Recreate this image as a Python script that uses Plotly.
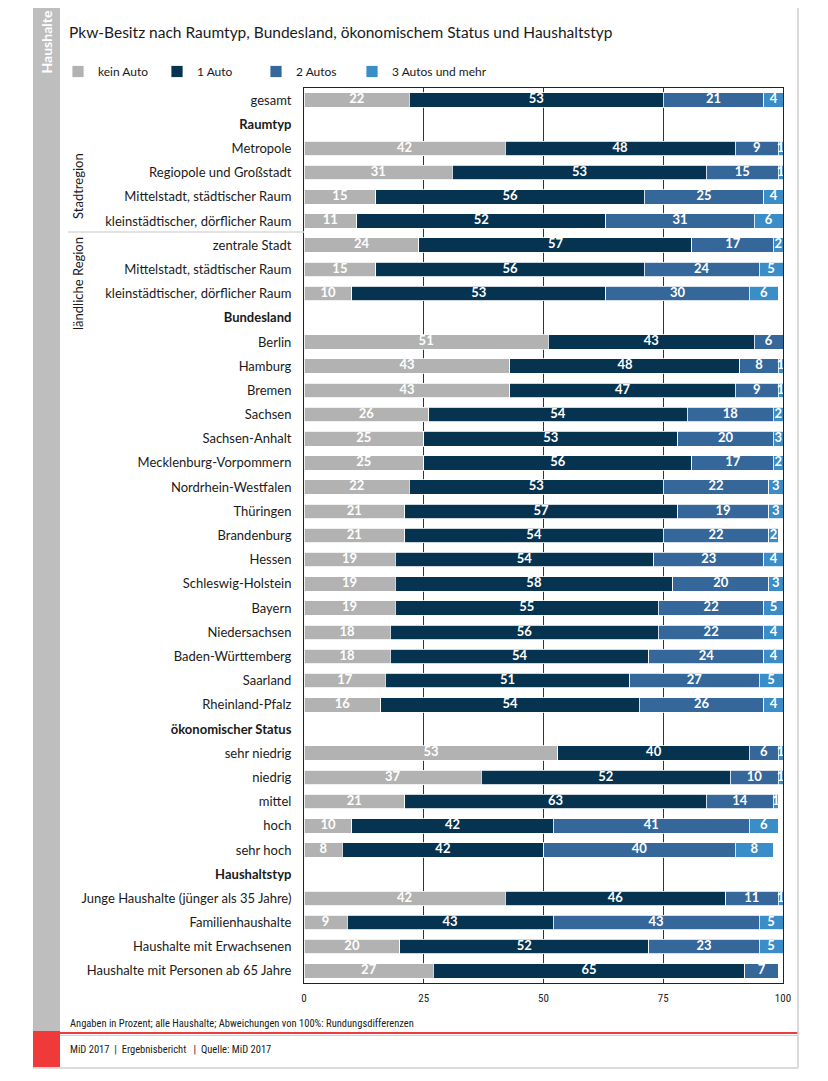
import plotly.graph_objects as go

labels = [
    "gesamt", "Raumtyp", "Metropole", "Regiopole und Großstadt",
    "Mittelstadt, städtischer Raum", "kleinstädtischer, dörflicher Raum",
    "zentrale Stadt", "Mittelstadt, städtischer Raum", "kleinstädtischer, dörflicher Raum",
    "Bundesland", "Berlin", "Hamburg", "Bremen", "Sachsen", "Sachsen-Anhalt",
    "Mecklenburg-Vorpommern", "Nordrhein-Westfalen", "Thüringen", "Brandenburg",
    "Hessen", "Schleswig-Holstein", "Bayern", "Niedersachsen", "Baden-Württemberg",
    "Saarland", "Rheinland-Pfalz", "ökonomischer Status", "sehr niedrig", "niedrig",
    "mittel", "hoch", "sehr hoch", "Haushaltstyp", "Junge Haushalte (jünger als 35 Jahre)",
    "Familienhaushalte", "Haushalte mit Erwachsenen", "Haushalte mit Personen ab 65 Jahre",
]
headers = ["Raumtyp", "Bundesland", "ökonomischer Status", "Haushaltstyp"]

kein_auto = [22, None, 42, 31, 15, 11, 24, 15, 10, None, 51, 43, 43, 26, 25, 25, 22, 21, 21,
             19, 19, 19, 18, 18, 17, 16, None, 53, 37, 21, 10, 8, None, 42, 9, 20, 27]
ein_auto = [53, None, 48, 53, 56, 52, 57, 56, 53, None, 43, 48, 47, 54, 53, 56, 53, 57, 54,
            54, 58, 55, 56, 54, 51, 54, None, 40, 52, 63, 42, 42, None, 46, 43, 52, 65]
zwei_autos = [21, None, 9, 15, 25, 31, 17, 24, 30, None, 6, 8, 9, 18, 20, 17, 22, 19, 22,
              23, 20, 22, 22, 24, 27, 26, None, 6, 10, 14, 41, 40, None, 11, 43, 23, 7]
drei_autos = [4, None, 1, 1, 4, 6, 2, 5, 6, None, None, 1, 1, 2, 3, 2, 3, 3, 2,
              4, 3, 5, 4, 4, 5, 4, None, 1, 1, 1, 6, 8, None, 1, 5, 5, None]

series = [
    ("kein Auto", kein_auto, "#b2b2b2"),
    ("1 Auto", ein_auto, "#06334f"),
    ("2 Autos", zwei_autos, "#35679a"),
    ("3 Autos und mehr", drei_autos, "#3a8dc6"),
]

x_ticks = [0, 25, 50, 75, 100]
X_MAX = 100

# the page adds an 8px body margin; work in window pixels and compensate
OFF = 8
W, H = 828 - OFF, 1081 - OFF
L, R, T, B = 304 - OFF, 783 - OFF, 88 - OFF, 983 - OFF
FONT = "Lato, 'Open Sans', sans-serif"
NARROW = "'Liberation Sans Narrow', 'Roboto Condensed', 'Arial Narrow', Lato, sans-serif"

def px(xp):
    return (xp - OFF - L) / (R - L)

def py(yp):
    return (B - (yp - OFF)) / (B - T)

ypos = list(range(len(labels)))
fig = go.Figure()
cum = [0.0] * len(labels)
lab_x, lab_y, lab_t = [], [], []
for k, (name, vals, col) in enumerate(series):
    fig.add_trace(go.Bar(
        y=ypos, x=vals, name=name, orientation="h", marker_color=col,
        marker_line=dict(color="white", width=0.8),
        width=0.6, hoverinfo="skip",
        legend="legend2" if k == len(series) - 1 else "legend",
    ))
    for i, v in enumerate(vals):
        if v is None:
            continue
        s, e = cum[i], cum[i] + v
        lab_x.append((s + min(e, X_MAX)) / 2)
        lab_y.append(i)
        lab_t.append(str(v))
        cum[i] = e

fig.add_trace(go.Scatter(
    x=lab_x, y=lab_y, text=lab_t, mode="text", showlegend=False, hoverinfo="skip",
    textposition="middle center", cliponaxis=False,
    textfont=dict(color="white", size=13, family=FONT, weight="bold"),
))

ticktext = ["<b>%s</b>" % t if t in headers else t for t in labels]

legend_common = dict(orientation="h", y=py(57), xanchor="left", yanchor="top",
                     font=dict(size=12, family=FONT), traceorder="normal",
                     itemwidth=30, bgcolor="rgba(0,0,0,0)")

fig.update_layout(
    width=W, height=H, barmode="stack",
    plot_bgcolor="white", paper_bgcolor="white",
    margin=dict(l=L, r=W - R, t=T, b=H - B, pad=0, autoexpand=False),
    font=dict(family=FONT, size=13, color="#1a1a1a"),
    showlegend=True,
    legend=dict(x=px(58), entrywidth=54, entrywidthmode="pixels", **legend_common),
    legend2=dict(x=px(352), **legend_common),
    xaxis=dict(range=[0, X_MAX], tickvals=x_ticks, ticktext=[str(v) for v in x_ticks],
               showgrid=True, gridcolor="#333333", gridwidth=1,
               showline=True, mirror=True, linecolor="#222222", linewidth=1,
               zeroline=False, ticks="", ticklabelstandoff=5,
               tickfont=dict(size=11, family=NARROW, color="#222222")),
    yaxis=dict(range=[len(labels) - 0.5, -0.5], tickvals=ypos, ticktext=ticktext,
               showgrid=False, showline=True, mirror=True, linecolor="#222222",
               linewidth=1, zeroline=False, ticks="", ticklabelstandoff=9,
               tickfont=dict(size=13, family=FONT, color="#1a1a1a")),
)

shapes = [
    # gray side band
    dict(type="rect", xref="paper", yref="paper", x0=px(33), x1=px(60), y0=py(1031), y1=py(OFF),
         fillcolor="#bebebe", line_width=0, layer="below"),
    # red bottom band
    dict(type="rect", xref="paper", yref="paper", x0=px(33), x1=px(60), y0=py(1067), y1=py(1031),
         fillcolor="#f03a3a", line_width=0, layer="below"),
    # red footer line
    dict(type="line", xref="paper", yref="paper", x0=px(60), x1=px(798), y0=py(1033), y1=py(1033),
         line=dict(color="#ef3b3b", width=2)),
    dict(type="line", xref="paper", yref="paper", x0=px(60), x1=px(798), y0=py(1035.5), y1=py(1035.5),
         line=dict(color="#f7c4c4", width=1)),
    # outer border
    dict(type="line", xref="paper", yref="paper", x0=px(798), x1=px(798), y0=py(1068), y1=py(OFF),
         line=dict(color="#cfcfcf", width=1.5)),
    dict(type="line", xref="paper", yref="paper", x0=px(33), x1=px(798), y0=py(1068), y1=py(1068),
         line=dict(color="#cfcfcf", width=1.5)),
    # separator Stadtregion / ländliche Region
    dict(type="line", xref="paper", yref="paper", x0=px(68), x1=px(304), y0=py(232), y1=py(232),
         line=dict(color="#d9d9d9", width=1.5)),
]

annotations = [
    dict(text="Pkw-Besitz nach Raumtyp, Bundesland, ökonomischem Status und Haushaltstyp",
         xref="paper", yref="paper", x=px(67), y=py(32), xanchor="left", yanchor="middle",
         showarrow=False, font=dict(size=15.5, family=FONT, color="#1a1a1a")),
    dict(text="<b>Haushalte</b>", xref="paper", yref="paper", x=px(46.5), y=py(42),
         xanchor="center", yanchor="middle", textangle=-90, showarrow=False,
         font=dict(size=14, family=FONT, color="white")),
    dict(text="Stadtregion", xref="paper", yref="paper", x=px(78), y=py(186),
         xanchor="center", yanchor="middle", textangle=-90, showarrow=False,
         font=dict(size=13, family=FONT, color="#1a1a1a")),
    dict(text="ländliche Region", xref="paper", yref="paper", x=px(78), y=py(284),
         xanchor="center", yanchor="middle", textangle=-90, showarrow=False,
         font=dict(size=13, family=FONT, color="#1a1a1a")),
    dict(text="Angaben in Prozent; alle Haushalte; Abweichungen von 100%: Rundungsdifferenzen",
         xref="paper", yref="paper", x=px(68), y=py(1023), xanchor="left", yanchor="middle",
         showarrow=False, font=dict(size=10.5, family=NARROW, color="#1a1a1a")),
    dict(text="MiD 2017  |  Ergebnisbericht   |  Quelle: MiD 2017",
         xref="paper", yref="paper", x=px(68), y=py(1049), xanchor="left", yanchor="middle",
         showarrow=False, font=dict(size=10.5, family=NARROW, color="#1a1a1a")),
]

fig.update_layout(shapes=shapes, annotations=annotations)
fig.write_html("out.html")
